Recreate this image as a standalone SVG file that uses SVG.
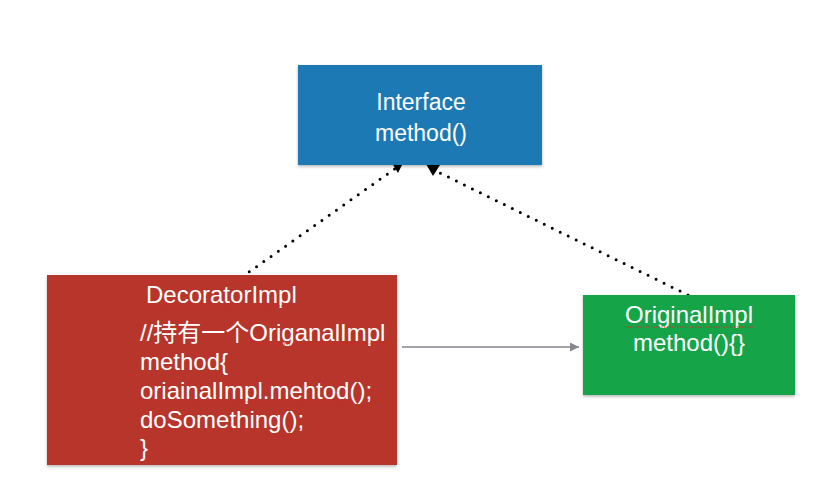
<svg xmlns="http://www.w3.org/2000/svg" width="827" height="500" viewBox="0 0 827 500">
<defs>
<style>
.t{font-family:"Liberation Sans",Arial,sans-serif;font-size:24px;fill:#ffffff}
.c{text-anchor:middle}
.dot{fill:none;stroke:#000;stroke-width:3;stroke-linecap:round;stroke-dasharray:0 8.9}
.sp{stroke:#d8262a;stroke-width:1.2;stroke-dasharray:1.2 1.4;fill:none}
</style>
<filter id="sh" x="-5%" y="-5%" width="110%" height="115%">
<feDropShadow dx="0" dy="1.5" stdDeviation="1.5" flood-color="#000" flood-opacity="0.3"/>
</filter>
<marker id="tri" viewBox="0 0 10 10" refX="10" refY="5" markerWidth="10" markerHeight="10" markerUnits="userSpaceOnUse" orient="auto">
<path d="M0,0 L10,5 L0,10 z" fill="#000"/>
</marker>
<marker id="gtri" viewBox="0 0 10 10" refX="10" refY="5" markerWidth="9" markerHeight="9" markerUnits="userSpaceOnUse" orient="auto">
<path d="M0,0 L10,5 L0,10 z" fill="#85858c"/>
</marker>
</defs>
<rect width="827" height="500" fill="#ffffff"/>
<g id="connectors">
<line class="dot" x1="242" y1="277" x2="396" y2="168"/>
<path d="M392,163 L404,161 L398,173 z" fill="#000"/>
<line class="dot" x1="688" y1="295" x2="436" y2="171"/>
<path d="M426,164 L440,165 L433,176 z" fill="#000"/>
<line x1="402" y1="347" x2="579" y2="347" stroke="#85858c" stroke-width="1.4" marker-end="url(#gtri)"/>
</g>
<g id="interface">
<rect x="298" y="65" width="244" height="100" fill="#1b79b3" filter="url(#sh)"/>
<text class="t c" x="421" y="110" style="font-size:23px">Interface</text>
<text class="t c" x="421" y="141" style="font-size:23px">method()</text>
</g>
<g id="decorator">
<rect x="47" y="275" width="350" height="190" fill="#b7342b" filter="url(#sh)"/>
<text class="t" x="146" y="303">DecoratorImpl</text>
<text class="t" x="140" y="341" style="font-family:'Liberation Sans','Noto Sans CJK SC',sans-serif">//持有一个OriganalImpl</text>
<text class="t" x="140" y="370">method{</text>
<text class="t" x="140" y="399">oriainalImpl.mehtod();</text>
<text class="t" x="140" y="428">doSomething();</text>
<text class="t" x="140" y="456">}</text>
<line class="sp" x1="146" y1="306" x2="298" y2="306"/>
<line class="sp" x1="250" y1="344" x2="387" y2="344"/>
<line class="sp" x1="140" y1="402" x2="350" y2="402"/>
</g>
<g id="original">
<rect x="583" y="295" width="212" height="100" fill="#19a448" filter="url(#sh)"/>
<text class="t c" x="689" y="323">OriginalImpl</text>
<text class="t c" x="689" y="351">method(){}</text>
<line class="sp" x1="625" y1="327" x2="753" y2="327"/>
</g>
</svg>
